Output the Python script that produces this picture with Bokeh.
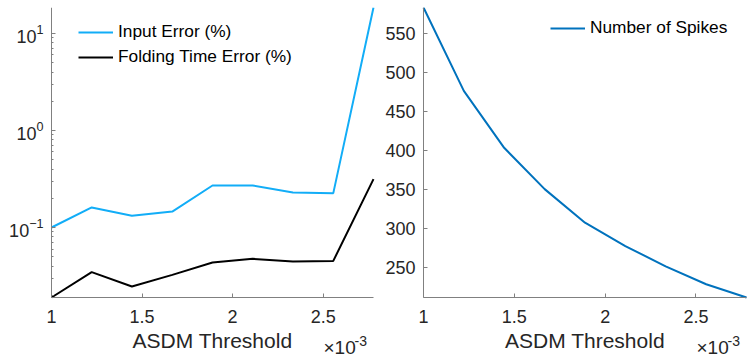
import math
from bokeh.plotting import figure
from bokeh.layouts import row
from bokeh.models import (Range1d, FixedTicker, NumeralTickFormatter, Legend,
                          LegendItem, Label, LogTicker)
from bokeh.embed import file_html
from bokeh.resources import INLINE

# ---- data (threshold in units of 1e-3) ----
threshold = [1.000, 1.222, 1.444, 1.667, 1.889, 2.111, 2.333, 2.556, 2.778]
input_error = [0.100, 0.161, 0.132, 0.146, 0.271, 0.271, 0.230, 0.226, 18.5]
folding_error = [0.019, 0.0347, 0.0247, 0.0325, 0.0436, 0.0476, 0.0446, 0.0453, 0.315]
num_spikes = [583, 476, 403, 350, 307, 277, 251, 228, 211]

x_ticks = [1, 1.5, 2, 2.5]
spike_ticks = [250, 300, 350, 400, 450, 500, 550]

FONT = "Liberation Sans"
AXIS_COL = "#808080"
TXT_COL = "#262626"
C_INPUT = "#12adf7"
C_FOLD = "#000000"
C_SPIKES = "#0072bd"

FIG_H = 363
TOP = 7           # frame top
DATA_H = 290      # height of data area (frame top to x-axis)
EXTRA = FIG_H - TOP - DATA_H   # room below the x-axis, kept inside the frame
PAD_Y = EXTRA / DATA_H


def x_range_for(left_px, data_w, right_px):
    x0, x1 = threshold[0], threshold[-1]
    k = (x1 - x0) / data_w
    return Range1d(x0 - left_px * k, x1 + right_px * k)


def style(p, y_lo, y_hi):
    p.xgrid.visible = False
    p.ygrid.visible = False
    p.outline_line_color = None
    for ax in (p.xaxis[0], p.yaxis[0]):
        ax.axis_line_color = AXIS_COL
        ax.major_tick_line_color = AXIS_COL
        ax.minor_tick_line_color = AXIS_COL
        ax.major_tick_in = 4
        ax.major_tick_out = 0
        ax.minor_tick_in = 2
        ax.minor_tick_out = 0
        ax.major_label_text_font = FONT
        ax.major_label_text_font_size = "18px"
        ax.major_label_text_color = TXT_COL
        ax.axis_label_text_font = FONT
        ax.axis_label_text_font_size = "21px"
        ax.axis_label_text_font_style = "normal"
        ax.axis_label_text_color = TXT_COL
    xa = p.xaxis[0]
    xa.minor_tick_line_color = None
    xa.ticker = FixedTicker(ticks=x_ticks)
    xa.formatter = NumeralTickFormatter(format="0.[0]")
    xa.axis_label = "ASDM Threshold"
    xa.major_label_standoff = 12
    xa.axis_label_standoff = 3
    xa.fixed_location = y_lo
    xa.bounds = (threshold[0], threshold[-1])
    ya = p.yaxis[0]
    ya.major_label_standoff = 8
    ya.bounds = (y_lo, y_hi)
    ya.fixed_location = threshold[0]


def exponent(p, x_end, y_bottom):
    p.add_layout(Label(x=x_end, y=y_bottom, x_offset=-50, y_offset=-50,
                       text="\u00d710", text_font=FONT, text_font_size="19px",
                       text_color=TXT_COL, text_baseline="middle", text_align="left"))
    p.add_layout(Label(x=x_end, y=y_bottom, x_offset=-19, y_offset=-43,
                       text="-3", text_font=FONT, text_font_size="14px",
                       text_color=TXT_COL, text_baseline="middle", text_align="left"))


# ---- left: errors, log scale ----
ymin_l = min(min(input_error), min(folding_error))
ymax_l = max(max(input_error), max(folding_error))
span_l = math.log10(ymax_l) - math.log10(ymin_l)
ystart_l = 10 ** (math.log10(ymin_l) - span_l * PAD_Y)

p1 = figure(width=383, height=FIG_H, y_axis_type="log",
            x_range=x_range_for(51, 322, 10),
            y_range=Range1d(ystart_l, ymax_l),
            output_backend="svg", toolbar_location=None,
            min_border_left=0, min_border_right=0,
            min_border_top=TOP, min_border_bottom=0)
style(p1, ymin_l, ymax_l)
p1.yaxis[0].ticker = LogTicker(num_minor_ticks=10)
r_in = p1.line(threshold, input_error, line_color=C_INPUT, line_width=2)
r_fo = p1.line(threshold, folding_error, line_color=C_FOLD, line_width=2)
leg1 = Legend(items=[LegendItem(label="Input Error (%)", renderers=[r_in]),
                     LegendItem(label="Folding Time Error (%)", renderers=[r_fo])],
              location=(78, FIG_H - 67), padding=0, margin=0, spacing=4,
              glyph_width=35, glyph_height=20, label_height=20, label_standoff=5,
              label_text_font=FONT, label_text_font_size="17.3px",
              label_text_color="#000000",
              border_line_alpha=0, background_fill_alpha=0)
p1.add_layout(leg1)
exponent(p1, threshold[-1], ymin_l)

# ---- right: number of spikes ----
ymin_r = min(num_spikes)
ymax_r = max(num_spikes)
ystart_r = ymin_r - (ymax_r - ymin_r) * PAD_Y

p2 = figure(width=365, height=FIG_H,
            x_range=x_range_for(40, 323, 2),
            y_range=Range1d(ystart_r, ymax_r),
            output_backend="svg", toolbar_location=None,
            min_border_left=0, min_border_right=0,
            min_border_top=TOP, min_border_bottom=0)
style(p2, ymin_r, ymax_r)
p2.yaxis[0].ticker = FixedTicker(ticks=spike_ticks)
p2.yaxis[0].minor_tick_line_color = None
r_sp = p2.line(threshold, num_spikes, line_color=C_SPIKES, line_width=2)
leg2 = Legend(items=[LegendItem(label="Number of Spikes", renderers=[r_sp])],
              location=(167, FIG_H - 38), padding=0, margin=0,
              glyph_width=35, glyph_height=20, label_height=20, label_standoff=5,
              label_text_font=FONT, label_text_font_size="17.3px",
              label_text_color="#000000",
              border_line_alpha=0, background_fill_alpha=0)
p2.add_layout(leg2)
exponent(p2, threshold[-1], ymin_r)

layout = row(p1, p2, spacing=0)
open("out.html", "w").write(file_html(layout, INLINE))
